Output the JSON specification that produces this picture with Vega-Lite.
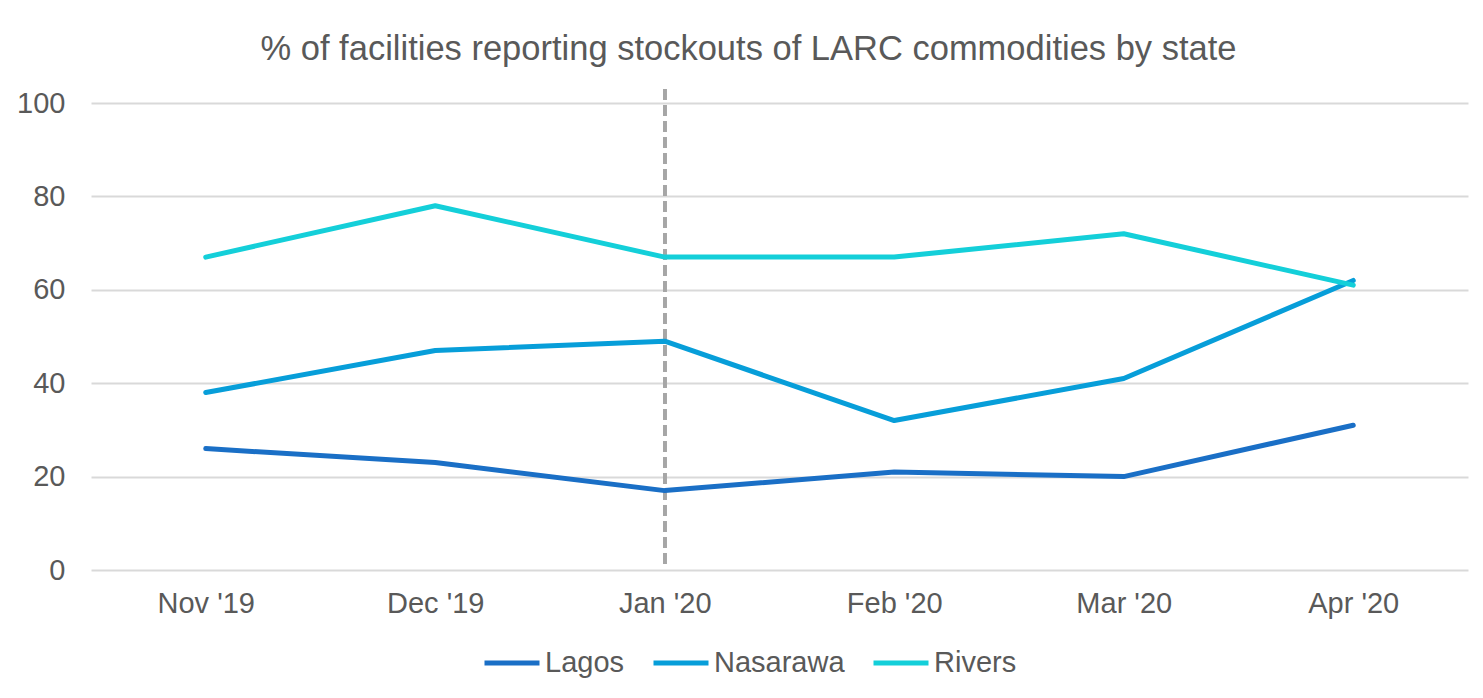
{
  "$schema": "https://vega.github.io/schema/vega-lite/v6.json",
  "autosize": "none",
  "width": 1377,
  "height": 467,
  "padding": {"left": 91, "top": 103, "right": 15, "bottom": 128},
  "background": "white",
  "config": {
    "view": {"stroke": null},
    "font": "Liberation Sans"
  },
  "title": {
    "text": "% of facilities reporting stockouts of LARC commodities by state",
    "font": "Liberation Sans",
    "fontSize": 34.5,
    "fontWeight": "normal",
    "color": "#595959",
    "anchor": "middle",
    "dx": -31,
    "offset": 20
  },
  "data": {
    "values": [
      {"month": "Nov '19", "state": "Lagos", "value": 26},
      {"month": "Dec '19", "state": "Lagos", "value": 23},
      {"month": "Jan '20", "state": "Lagos", "value": 17},
      {"month": "Feb '20", "state": "Lagos", "value": 21},
      {"month": "Mar '20", "state": "Lagos", "value": 20},
      {"month": "Apr '20", "state": "Lagos", "value": 31},
      {"month": "Nov '19", "state": "Nasarawa", "value": 38},
      {"month": "Dec '19", "state": "Nasarawa", "value": 47},
      {"month": "Jan '20", "state": "Nasarawa", "value": 49},
      {"month": "Feb '20", "state": "Nasarawa", "value": 32},
      {"month": "Mar '20", "state": "Nasarawa", "value": 41},
      {"month": "Apr '20", "state": "Nasarawa", "value": 62},
      {"month": "Nov '19", "state": "Rivers", "value": 67},
      {"month": "Dec '19", "state": "Rivers", "value": 78},
      {"month": "Jan '20", "state": "Rivers", "value": 67},
      {"month": "Feb '20", "state": "Rivers", "value": 67},
      {"month": "Mar '20", "state": "Rivers", "value": 72},
      {"month": "Apr '20", "state": "Rivers", "value": 61}
    ]
  },
  "layer": [
    {
      "mark": {"type": "rule", "color": "#A6A6A6", "strokeWidth": 3, "strokeDash": [11, 5], "clip": false},
      "encoding": {
        "x": {"datum": "Jan '20", "type": "ordinal"},
        "y": {"datum": 103, "type": "quantitative"},
        "y2": {"datum": 1}
      }
    },
    {
      "mark": {"type": "line", "strokeWidth": 5, "strokeCap": "round", "strokeJoin": "round"},
      "encoding": {
        "x": {
          "field": "month",
          "type": "ordinal",
          "sort": ["Nov '19", "Dec '19", "Jan '20", "Feb '20", "Mar '20", "Apr '20"],
          "scale": {"type": "point", "padding": 0.5},
          "axis": {
            "title": null,
            "labelAngle": 0,
            "labelAlign": "center",
            "labelFont": "Liberation Sans",
            "labelFontSize": 29,
            "labelColor": "#595959",
            "labelPadding": 33,
            "ticks": false,
            "domain": false,
            "grid": false
          }
        },
        "y": {
          "field": "value",
          "type": "quantitative",
          "scale": {"domain": [0, 100], "nice": false},
          "axis": {
            "title": null,
            "values": [0, 20, 40, 60, 80, 100],
            "labelFont": "Liberation Sans",
            "labelFontSize": 29,
            "labelColor": "#595959",
            "labelPadding": 26,
            "ticks": false,
            "domain": false,
            "grid": true,
            "gridColor": "#D9D9D9",
            "gridWidth": 2
          }
        },
        "color": {
          "field": "state",
          "type": "nominal",
          "scale": {"domain": ["Lagos", "Nasarawa", "Rivers"], "range": ["#1A6FC6", "#079ED9", "#14CFD9"]},
          "legend": {
            "title": null,
            "orient": "none",
            "direction": "horizontal",
            "legendX": 391,
            "legendY": 530,
            "symbolType": "stroke",
            "symbolSize": 3025,
            "symbolStrokeWidth": 5,
            "labelFont": "Liberation Sans",
            "labelFontSize": 29,
            "labelColor": "#595959",
            "labelOffset": 3,
            "columnPadding": 18
          }
        }
      }
    }
  ]
}
